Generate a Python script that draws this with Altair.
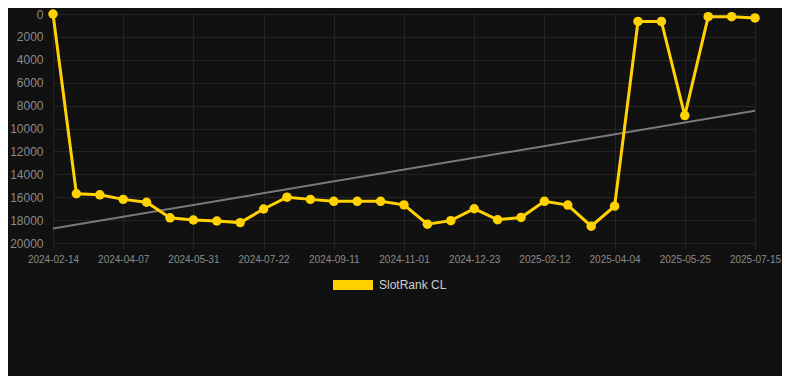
import altair as alt
import pandas as pd

dates = ["2024-02-14", "2024-03-02", "2024-03-20", "2024-04-07", "2024-04-25", "2024-05-13",
         "2024-05-31", "2024-06-17", "2024-07-05", "2024-07-22", "2024-08-08", "2024-08-25",
         "2024-09-11", "2024-09-28", "2024-10-15", "2024-11-01", "2024-11-18", "2024-12-06",
         "2024-12-23", "2025-01-09", "2025-01-26", "2025-02-12", "2025-03-01", "2025-03-18",
         "2025-04-04", "2025-04-21", "2025-05-08", "2025-05-25", "2025-06-11", "2025-06-28",
         "2025-07-15"]
ranks = [0, 15700, 15790, 16190, 16440, 17800, 17990, 18080, 18220, 17030, 16000, 16190,
         16360, 16360, 16360, 16670, 18360, 18050, 17010, 17970, 17770, 16360, 16690, 18530,
         16780, 650, 650, 8870, 230, 230, 340]
trend_dates = ["2024-02-14", "2025-07-15"]
trend_values = [18730, 8450]
tick_dates = dates[::3]
y_ticks = [0, 2000, 4000, 6000, 8000, 10000, 12000, 14000, 16000, 18000, 20000]
series_name = "SlotRank CL"

df = pd.DataFrame({"date": dates, "rank": ranks, "series": [series_name] * len(dates)})
tdf = pd.DataFrame({"date": trend_dates, "rank": trend_values})

YELLOW = "#FFD200"
GRID = "#242424"
LABEL = "#8a8a8a"

x_axis = alt.Axis(values=tick_dates, labelAngle=0, labelAlign="center", labelBaseline="top",
                  title=None, domain=False, grid=True, gridColor=GRID, ticks=True,
                  tickColor=GRID, tickSize=6, labelColor=LABEL, labelFontSize=10,
                  labelPadding=5, labelFont="Liberation Sans", labelOverlap=False,
                  labelFlush=False, labelBound=False)
y_axis = alt.Axis(values=y_ticks, title=None, domain=False, ticks=False, grid=True,
                  gridColor=GRID, labelColor=LABEL, labelFontSize=12, labelPadding=10,
                  labelFont="Liberation Sans", format="d", labelOverlap=False,
                  labelFlush=False, labelBound=False)

x_scale = alt.Scale(domain=dates, type="point", padding=0)
y_scale = alt.Scale(domain=[0, 20000], reverse=True, nice=False, zero=False)

trend = alt.Chart(tdf).mark_line(color="#7a7a7a", strokeWidth=2).encode(
    x=alt.X("date:O", sort=None, scale=x_scale, axis=x_axis),
    y=alt.Y("rank:Q", scale=y_scale, axis=y_axis),
)

line = alt.Chart(df).mark_line(color=YELLOW, strokeWidth=3).encode(
    x=alt.X("date:O", sort=None, scale=x_scale, axis=x_axis),
    y=alt.Y("rank:Q", scale=y_scale, axis=y_axis),
)

points = alt.Chart(df).mark_point(filled=True, size=90, opacity=1).encode(
    x=alt.X("date:O", sort=None, scale=x_scale, axis=x_axis),
    y=alt.Y("rank:Q", scale=y_scale, axis=y_axis),
    color=alt.Color("series:N", scale=alt.Scale(domain=[series_name], range=[YELLOW]),
                    legend=alt.Legend(title=None, orient="none", legendX=280, legendY=251,
                                      symbolType="M-1,-0.25L1,-0.25L1,0.25L-1,0.25Z",
                                      symbolSize=1600, symbolStrokeWidth=0,
                                      symbolFillColor=YELLOW, symbolOpacity=1,
                                      labelColor="#d0d0d0", labelFontSize=12,
                                      labelFont="Liberation Sans", labelOffset=6)),
)

chart = alt.layer(trend, line, points).properties(
    width=702, height=229,
    autosize=alt.AutoSizeParams(type="none"),
    padding={"left": 45, "top": 6, "right": 27, "bottom": 133},
    background="#111111",
).configure_view(stroke=None)

chart.save("out.html", embed_options={"renderer": "svg", "actions": False})
